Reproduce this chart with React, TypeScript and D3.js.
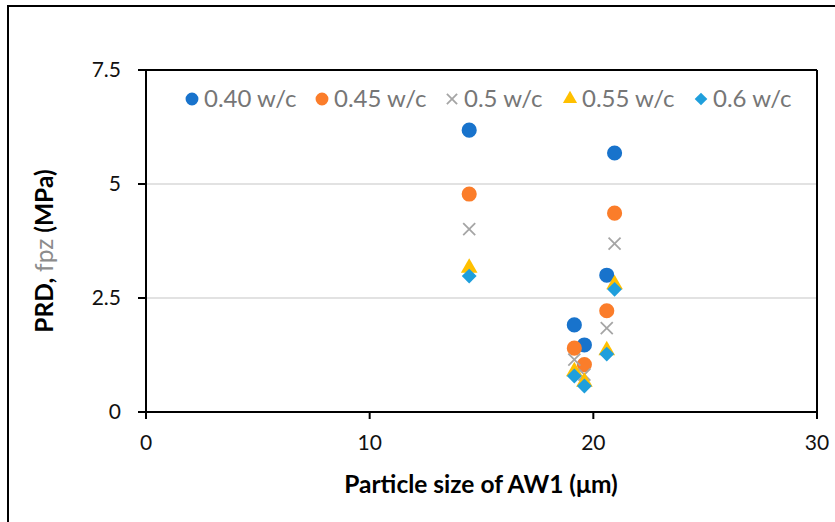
import React from "react";
import * as d3 from "d3";

// Particle size of AW1 (µm) for each mix
const sizes = [14.45, 19.15, 19.6, 20.6, 20.95];

// PRD, fpz (MPa) per water/cement ratio
const wc040 = [6.18, 1.91, 1.47, 3.0, 5.68];
const wc045 = [4.78, 1.4, 1.04, 2.22, 4.36];
const wc050 = [4.01, 1.15, 0.82, 1.84, 3.69];
const wc055 = [3.16, 0.89, 0.66, 1.35, 2.8];
const wc060 = [2.98, 0.79, 0.57, 1.27, 2.69];

const seriesNames = ["0.40 w/c", "0.45 w/c", "0.5 w/c", "0.55 w/c", "0.6 w/c"];
const xTicks = [0, 10, 20, 30];
const yTicks = [0, 2.5, 5, 7.5];
const yTickLabels = ["0", "2.5", "5", "7.5"];

const W = 835;
const H = 522;
const plot = { left: 146, right: 817, top: 70, bottom: 412 };

const x = d3.scaleLinear().domain([0, 30]).range([plot.left, plot.right]);
const y = d3.scaleLinear().domain([0, 7.5]).range([plot.bottom, plot.top]);

type Shape = "circle" | "cross" | "triangle" | "diamond";
const styles: { color: string; shape: Shape }[] = [
  { color: "#1873cc", shape: "circle" },
  { color: "#fb7d2a", shape: "circle" },
  { color: "#a5a5a5", shape: "cross" },
  { color: "#ffc000", shape: "triangle" },
  { color: "#1f9fdc", shape: "diamond" },
];
const allSeries = [wc040, wc045, wc050, wc055, wc060];

const sym = {
  circle: d3.symbol().type(d3.symbolCircle).size(180),
  triangle: d3.symbol().type(d3.symbolTriangle).size(120),
  diamond: d3.symbol().type(d3.symbolSquare).size(110),
};

function Marker({ cx, cy, shape, color, scale = 1 }: { cx: number; cy: number; shape: Shape; color: string; scale?: number }) {
  if (shape === "cross") {
    const r = 6 * scale;
    return (
      <g transform={`translate(${cx},${cy})`} stroke={color} strokeWidth={1.8}>
        <line x1={-r} y1={-r} x2={r} y2={r} />
        <line x1={-r} y1={r} x2={r} y2={-r} />
      </g>
    );
  }
  const path = (sym as any)[shape]() as string;
  const rot = shape === "diamond" ? " rotate(45)" : "";
  return <path d={path} fill={color} transform={`translate(${cx},${cy}) scale(${scale})${rot}`} />;
}

const legendX = [192, 322, 452, 570, 701];

export default function App() {
  const font = "Lato, 'Open Sans', sans-serif";
  return (
    <svg width={W} height={H} style={{ position: "absolute", left: 0, top: 0, background: "#fff" }} fontFamily={font}>
      {/* outer chart border */}
      <rect x={8} y={6} width={W + 20} height={H + 20} fill="#fff" stroke="#000" strokeWidth={2} />

      {/* gridlines */}
      {yTicks.filter((t) => t > 0 && t < 7.5).map((t) => (
        <line key={t} x1={plot.left} x2={plot.right} y1={y(t)} y2={y(t)} stroke="#d9d9d9" strokeWidth={1.5} />
      ))}

      {/* plot frame */}
      <line x1={plot.left} x2={plot.right} y1={plot.top} y2={plot.top} stroke="#000" strokeWidth={2} />
      <line x1={plot.right} x2={plot.right} y1={plot.top} y2={plot.bottom} stroke="#000" strokeWidth={2} />
      <line x1={plot.left} x2={plot.left} y1={plot.top} y2={plot.bottom} stroke="#000" strokeWidth={2} />
      <line x1={plot.left} x2={plot.right} y1={plot.bottom} y2={plot.bottom} stroke="#000" strokeWidth={2} />

      {/* y ticks */}
      {yTicks.map((t, i) => (
        <g key={t}>
          <line x1={plot.left - 8} x2={plot.left} y1={y(t)} y2={y(t)} stroke="#000" strokeWidth={2} />
          <text x={plot.left - 25} y={y(t)} dy="0.35em" textAnchor="end" fontSize={21} fill="#111">
            {yTickLabels[i]}
          </text>
        </g>
      ))}

      {/* x ticks */}
      {xTicks.map((t) => (
        <g key={t}>
          <line x1={x(t)} x2={x(t)} y1={plot.bottom} y2={plot.bottom + 7} stroke="#000" strokeWidth={2} />
          <text x={x(t)} y={plot.bottom + 38} textAnchor="middle" fontSize={21} fill="#111">
            {t}
          </text>
        </g>
      ))}

      {/* axis titles */}
      <text x={481} y={493} textAnchor="middle" fontSize={24.5} fontWeight="bold" fill="#000">
        Particle size of AW1 (μm)
      </text>
      <text transform={`translate(53,251) rotate(-90)`} textAnchor="middle" fontSize={24.5} fontWeight="bold" fill="#000">
        PRD, <tspan fill="#8c8c8c" fontWeight="normal">fpz</tspan> (MPa)
      </text>

      {/* data points */}
      {allSeries.map((vals, si) => (
        <g key={si}>
          {vals.map((v, i) => (
            <Marker key={i} cx={x(sizes[i])} cy={y(v)} shape={styles[si].shape} color={styles[si].color} />
          ))}
        </g>
      ))}

      {/* legend */}
      {seriesNames.map((name, i) => (
        <g key={name}>
          <Marker cx={legendX[i]} cy={99} shape={styles[i].shape} color={styles[i].color} scale={0.85} />
          <text x={legendX[i] + 12} y={99} dy="0.35em" fontSize={24} fill="#767676">
            {name}
          </text>
        </g>
      ))}
    </svg>
  );
}
